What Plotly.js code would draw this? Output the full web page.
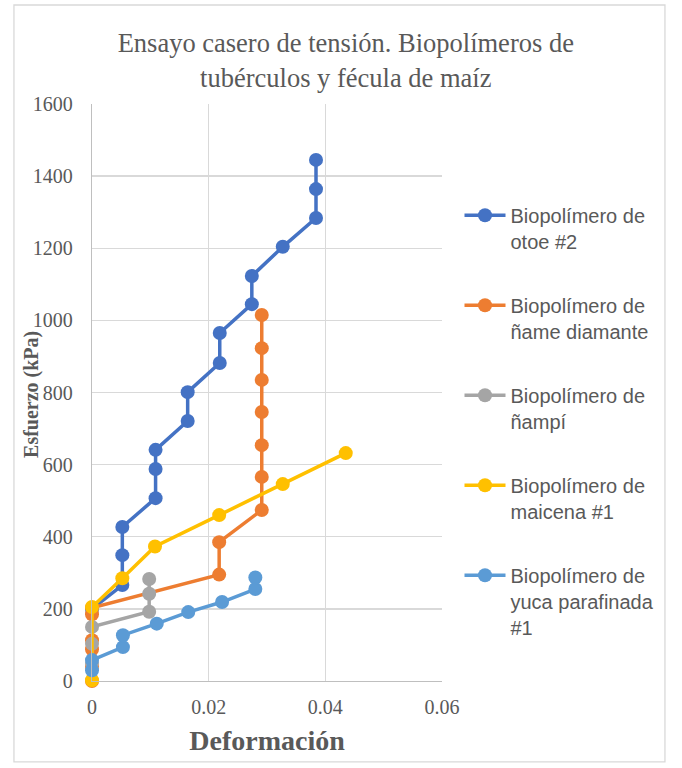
<!DOCTYPE html>
<html>
<head>
<meta charset="utf-8">
<script src="https://cdn.plot.ly/plotly-3.0.1.min.js"></script>
<style>
  html, body { margin: 0; padding: 0; background: #fff; }
  #chart { width: 682px; height: 768px; }
</style>
</head>
<body>
<div id="chart"></div>
<script>
// Data
const seriesNames = [
  "Biopolímero de<br>otoe #2",
  "Biopolímero de<br>ñame diamante",
  "Biopolímero de<br>ñampí",
  "Biopolímero de<br>maicena #1",
  "Biopolímero de<br>yuca parafinada<br>#1"
];
const seriesColors = ["#4472C4", "#ED7D31", "#A5A5A5", "#FFC000", "#5B9BD5"];

const otoeX = [0, 0.0052, 0.0052, 0.0052, 0.0109, 0.0109, 0.0109, 0.0164, 0.0164, 0.0219, 0.0219, 0.0274, 0.0274, 0.0327, 0.0384, 0.0384, 0.0384];
const otoeY = [200, 266, 349, 427, 507, 588, 641, 721, 801, 882, 965, 1045, 1123, 1204, 1284, 1364, 1445];

const nameX = [0, 0, 0, 0, 0, 0, 0.0218, 0.0218, 0.0291, 0.0291, 0.0291, 0.0291, 0.0291, 0.0291, 0.0291];
const nameY = [0, 40, 88, 113, 185, 203, 295, 385, 474, 566, 654, 746, 835, 923, 1015];

const nampiX = [0, 0, 0, 0.0098, 0.0098, 0.0098];
const nampiY = [50, 103, 150, 192, 242, 283];

const maicenaX = [0, 0, 0.0052, 0.0108, 0.0218, 0.0327, 0.0435];
const maicenaY = [2, 205, 285, 373, 460, 546, 632];

const yucaX = [0, 0, 0.0053, 0.0053, 0.0111, 0.0165, 0.0223, 0.0280, 0.0280];
const yucaY = [30, 58, 94, 127, 159, 191, 219, 255, 287];

const xs = [otoeX, nameX, nampiX, maicenaX, yucaX];
const ys = [otoeY, nameY, nampiY, maicenaY, yucaY];

const xTicks = [0, 0.02, 0.04, 0.06];
const yTicks = [0, 200, 400, 600, 800, 1000, 1200, 1400, 1600];

const traces = seriesNames.map((n, i) => ({
  type: "scatter",
  mode: "lines+markers",
  name: n,
  x: xs[i],
  y: ys[i],
  legendgroup: "g" + i,
  cliponaxis: false,
  line: { color: seriesColors[i], width: 3.5 },
  marker: { color: seriesColors[i], size: 14 }
}));

const serif = "Liberation Serif";
const sans = "Liberation Sans";
const grey = "#595959";

const layout = {
  width: 682,
  height: 768,
  margin: { l: 92, r: 240, t: 104, b: 87 },
  paper_bgcolor: "#ffffff",
  plot_bgcolor: "#ffffff",
  font: { family: serif, size: 20, color: grey },
  showlegend: true,
  title: {
    text: "Ensayo casero de tensión. Biopolímeros de<br>tubérculos y fécula de maíz",
    font: { family: serif, size: 26.5, color: grey },
    x: 0.507, xanchor: "center",
    y: 0.932, yanchor: "top", yref: "container"
  },
  xaxis: {
    range: [0, 0.06],
    tickvals: xTicks,
    ticktext: xTicks.map(String),
    showgrid: true,
    gridcolor: "#d9d9d9",
    gridwidth: 1.3,
    zeroline: false,
    showline: true,
    linecolor: "#bfbfbf",
    linewidth: 1.3,
    ticks: "",
    ticklabelstandoff: 8,
    tickfont: { family: serif, size: 20, color: grey },
    title: { text: "<b>Deformación</b>", font: { family: serif, size: 28, color: grey }, standoff: 13 }
  },
  yaxis: {
    range: [0, 1600],
    tickvals: yTicks,
    showgrid: true,
    gridcolor: "#d9d9d9",
    gridwidth: 1.3,
    zeroline: false,
    showline: true,
    linecolor: "#bfbfbf",
    linewidth: 1.3,
    ticks: "",
    ticklabelstandoff: 14,
    tickfont: { family: serif, size: 20, color: grey }
  },
  annotations: [{
    text: "<b>Esfuerzo (kPa)</b>",
    xref: "paper", yref: "paper",
    x: -0.171, y: 0.496,
    xanchor: "center", yanchor: "middle",
    textangle: -90,
    showarrow: false,
    font: { family: serif, size: 20, color: grey }
  }],
  legend: {
    x: 1.05, xanchor: "left",
    y: 0.841, yanchor: "top",
    valign: "top",
    itemwidth: 41,
    tracegroupgap: 35,
    font: { family: sans, size: 20, color: grey },
    bgcolor: "rgba(0,0,0,0)"
  },
  shapes: [{
    type: "rect", xref: "paper", yref: "paper",
    x0: -0.223, x1: 1.637, y0: -0.140, y1: 1.1716,
    line: { color: "#d9d9d9", width: 1.3 },
    fillcolor: "rgba(0,0,0,0)",
    layer: "below"
  }]
};

Plotly.newPlot("chart", traces, layout, { staticPlot: true, displayModeBar: false });
</script>
</body>
</html>
